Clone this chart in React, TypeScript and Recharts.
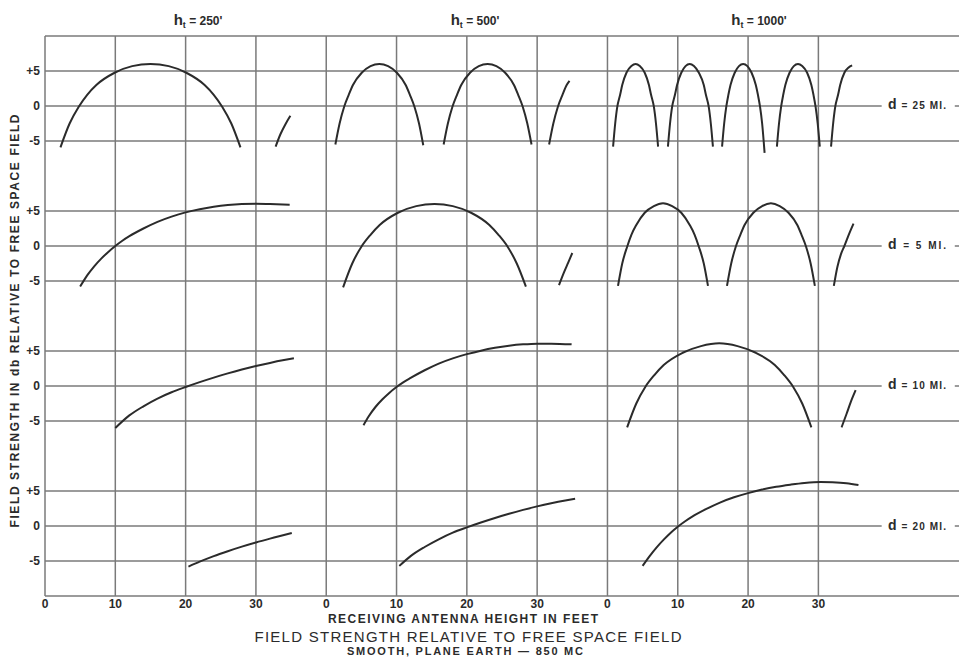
import React, { useEffect, useState } from 'react';
import { LineChart, Line, XAxis, YAxis, ReferenceLine } from 'recharts';

// Receiving antenna heights (ft) in each panel; each panel is 40 ft wide on the page
const PANEL_SPAN = 40;
const TX_HEIGHTS = ["250'", "500'", "1000'"];
const DISTANCES = ['25', '5', '10', '20'];
const X_TICKS = [0, 10, 20, 30, 40, 50, 60, 70, 80, 90, 100, 110];
const Y_TICKS = [-5, 0, 5];

type Pt = [number, number]; // [receiving height ft, db]

// d = 25 mi
const d25_h250: Pt[][] = [
  [[2.2, -5.9], [3.5, -2.5], [4.8, -0.1], [6.0, 1.6], [7.3, 3.0], [9.9, 4.75], [12.4, 5.7], [15.0, 6.0], [17.6, 5.7], [20.1, 4.75], [22.7, 3.0], [24.0, 1.6], [25.2, -0.1], [26.5, -2.5], [27.8, -5.9]],
  [[32.8, -5.8], [33.5, -4.0], [34.2, -2.6], [34.9, -1.4]],
];
const d25_h500: Pt[][] = [
  [[1.3, -5.5], [1.9, -2.5], [2.55, -0.1], [3.2, 1.6], [3.8, 3.0], [5.05, 4.75], [6.3, 5.7], [7.55, 6.0], [8.8, 5.7], [10.05, 4.75], [11.3, 3.0], [11.9, 1.6], [12.55, -0.1], [13.2, -2.5], [13.8, -5.6]],
  [[16.7, -5.5], [17.3, -2.5], [17.95, -0.1], [18.6, 1.6], [19.2, 3.0], [20.45, 4.75], [21.7, 5.7], [22.95, 6.0], [24.2, 5.7], [25.45, 4.75], [26.7, 3.0], [27.3, 1.6], [27.95, -0.1], [28.6, -2.5], [29.2, -5.5]],
  [[31.7, -5.5], [32.3, -2.5], [32.95, -0.1], [33.6, 1.6], [34.2, 3.0], [34.6, 3.6]],
];
const d25_h1000: Pt[][] = [
  [[0.8, -5.8], [1.1, -2.5], [1.4, -0.1], [1.8, 1.6], [2.1, 3.0], [2.7, 4.75], [3.4, 5.7], [4.0, 6.0], [4.6, 5.7], [5.3, 4.75], [5.9, 3.0], [6.2, 1.6], [6.6, -0.1], [6.9, -2.5], [7.2, -5.8]],
  [[8.6, -5.8], [8.9, -2.5], [9.2, -0.1], [9.6, 1.6], [9.9, 3.0], [10.5, 4.75], [11.1, 5.7], [11.7, 6.0], [12.3, 5.7], [13.0, 4.75], [13.7, 3.0], [14.0, 1.6], [14.4, -0.1], [14.7, -2.5], [15.0, -5.8]],
  [[16.3, -5.8], [16.6, -2.5], [16.9, -0.1], [17.2, 1.6], [17.5, 3.0], [18.1, 4.75], [18.7, 5.7], [19.3, 6.0], [19.9, 5.7], [20.5, 4.75], [21.1, 3.0], [21.4, 1.6], [21.7, -0.1], [22.0, -2.5], [22.35, -6.7]],
  [[24.1, -5.8], [24.4, -2.5], [24.7, -0.1], [25.0, 1.6], [25.3, 3.0], [25.9, 4.75], [26.5, 5.7], [27.1, 6.0], [27.7, 5.7], [28.4, 4.75], [29.0, 3.0], [29.3, 1.6], [29.6, -0.1], [29.9, -2.5], [30.2, -5.8]],
  [[31.8, -5.8], [32.1, -2.5], [32.4, -0.1], [32.8, 1.6], [33.1, 3.0], [33.7, 4.75], [34.3, 5.5], [34.8, 5.8]],
];

// d = 5 mi
const d5_h250: Pt[][] = [
  [[5.0, -5.8], [6, -4.2], [7, -2.9], [8, -1.8], [9, -0.85], [10, 0], [11, 0.75], [12, 1.4], [14, 2.5], [16, 3.45], [18, 4.2], [20, 4.8], [22, 5.25], [24, 5.6], [26, 5.85], [28, 6.0], [30, 6.05], [32, 6.0], [34.8, 5.9]],
];
const d5_h500: Pt[][] = [
  [[2.4, -5.9], [3.7, -2.5], [5.0, -0.1], [6.3, 1.6], [7.6, 3.0], [10.2, 4.75], [12.8, 5.7], [15.4, 6.0], [18.0, 5.7], [20.6, 4.75], [23.2, 3.0], [24.5, 1.6], [25.8, -0.1], [27.1, -2.5], [28.4, -5.8]],
  [[33.1, -5.6], [33.8, -3.8], [34.4, -2.4], [35.0, -1.0]],
];
const d5_h1000: Pt[][] = [
  [[1.5, -5.7], [2.1, -2.5], [2.8, -0.1], [3.4, 1.6], [4.1, 3.0], [5.3, 4.75], [6.6, 5.7], [7.9, 6.1], [9.2, 5.7], [10.5, 4.75], [11.7, 3.0], [12.4, 1.6], [13.0, -0.1], [13.7, -2.5], [14.3, -5.7]],
  [[17.0, -5.7], [17.6, -2.5], [18.25, -0.1], [18.9, 1.6], [19.5, 3.0], [20.75, 4.75], [22.0, 5.7], [23.25, 6.1], [24.5, 5.7], [25.75, 4.75], [27.0, 3.0], [27.6, 1.6], [28.25, -0.1], [28.9, -2.5], [29.5, -5.7]],
  [[32.2, -5.7], [32.7, -3.0], [33.2, -1.2], [33.7, 0], [34.4, 1.8], [35.0, 3.2]],
];

// d = 10 mi
const d10_h250: Pt[][] = [
  [[10.0, -6.0], [12, -4.2], [14, -2.9], [16, -1.8], [18, -0.9], [20, -0.15], [22, 0.55], [24, 1.2], [26, 1.8], [28, 2.35], [30, 2.85], [32, 3.3], [34, 3.7], [35.4, 3.95]],
];
const d10_h500: Pt[][] = [
  [[5.3, -5.6], [6, -4.4], [7, -3.0], [8, -1.9], [9, -0.95], [10, -0.15], [11, 0.55], [12, 1.15], [14, 2.25], [16, 3.2], [18, 3.95], [20, 4.55], [22, 5.05], [24, 5.45], [26, 5.75], [28, 5.95], [30, 6.05], [32, 6.05], [34.9, 5.95]],
];
const d10_h1000: Pt[][] = [
  [[2.8, -5.9], [4.1, -2.5], [5.4, -0.1], [6.7, 1.6], [8.0, 3.0], [10.7, 4.75], [13.3, 5.7], [15.9, 6.1], [18.5, 5.7], [21.1, 4.75], [23.8, 3.0], [25.1, 1.6], [26.4, -0.1], [27.7, -2.5], [29.0, -5.9]],
  [[33.3, -5.9], [34.0, -4.0], [34.6, -2.3], [35.3, -0.6]],
];

// d = 20 mi
const d20_h250: Pt[][] = [
  [[20.4, -5.8], [22, -5.1], [24, -4.3], [26, -3.6], [28, -2.95], [30, -2.35], [32, -1.8], [35.1, -1.0]],
];
const d20_h500: Pt[][] = [
  [[10.4, -5.7], [12, -4.3], [14, -3.0], [16, -1.9], [18, -0.95], [20, -0.2], [22, 0.5], [24, 1.15], [26, 1.75], [28, 2.3], [30, 2.8], [32, 3.25], [34, 3.65], [35.4, 3.9]],
];
const d20_h1000: Pt[][] = [
  [[5.0, -5.7], [6, -4.3], [7, -3.05], [8, -1.95], [9, -0.95], [10, -0.1], [11, 0.65], [12, 1.3], [14, 2.4], [16, 3.35], [18, 4.1], [20, 4.7], [22, 5.2], [24, 5.6], [26, 5.9], [28, 6.15], [30.3, 6.3], [32, 6.25], [34, 6.1], [35.7, 5.85]],
];

const ROWS: Pt[][][][] = [
  [d25_h250, d25_h500, d25_h1000],
  [d5_h250, d5_h500, d5_h1000],
  [d10_h250, d10_h500, d10_h1000],
  [d20_h250, d20_h500, d20_h1000],
];

const GRID = '#7a7a7a';
const INK = '#2b2b2b';
const FONT = '"Liberation Sans", Arial, sans-serif';

const ROW_TOP = [36, 176, 316, 456];

// grid, axes and tick labels for one distance row
function GridRow({ idx }: { idx: number }) {
  const last = idx === ROWS.length - 1;
  const edges = [idx === 0 ? 10 : null, last ? -10 : null].filter((v) => v !== null) as number[];
  return (
    <div style={{ position: 'absolute', left: 0, top: ROW_TOP[idx] - 5 }}>
      <LineChart width={959} height={last ? 172 : 150} margin={{ top: 5, right: 0, bottom: 5, left: 0 }}>
        <XAxis
          type="number"
          dataKey="x"
          domain={[0, 130]}
          ticks={X_TICKS}
          interval={0}
          hide={!last}
          height={22}
          axisLine={false}
          tickLine={false}
          tickSize={0}
          tickMargin={3}
          allowDataOverflow
          tickFormatter={(v: number) => String(v % PANEL_SPAN)}
          tick={{ fill: INK, fontSize: 12, fontWeight: 700, fontFamily: FONT }}
        />
        <YAxis
          type="number"
          domain={[-10, 10]}
          ticks={Y_TICKS}
          interval={0}
          width={45}
          axisLine={false}
          tickLine={false}
          tickSize={0}
          tickMargin={5}
          allowDataOverflow
          tickFormatter={(v: number) => (v > 0 ? `+${v}` : String(v))}
          tick={{ fill: INK, fontSize: 12, fontWeight: 700, fontFamily: FONT }}
        />
        {X_TICKS.map((v) => (
          <ReferenceLine key={'v' + v} x={v} stroke={GRID} strokeWidth={1.5} />
        ))}
        <ReferenceLine key="p5" y={5} stroke={GRID} strokeWidth={1.5} />
        <ReferenceLine key="m5" y={-5} stroke={GRID} strokeWidth={1.5} />
        {/* 0 db line, broken for the distance label */}
        <ReferenceLine key="z1" segment={[{ x: 0, y: 0 }, { x: 119, y: 0 }]} stroke={GRID} strokeWidth={1.5} />
        <ReferenceLine key="z2" segment={[{ x: 129.4, y: 0 }, { x: 130, y: 0 }]} stroke={GRID} strokeWidth={1.5} />
        {edges.map((v) => (
          <ReferenceLine key={'e' + v} y={v} stroke={GRID} strokeWidth={1.5} />
        ))}
      </LineChart>
    </div>
  );
}

// the curves of one distance row, drawn over its grid
function DataRow({ idx }: { idx: number }) {
  // lay the three panels of this row side by side on one x axis
  const series = ROWS[idx].flatMap((panel, c) =>
    panel.map((curve) => curve.map(([h, db]) => ({ x: c * PANEL_SPAN + h, y: db })))
  );
  return (
    <div style={{ position: 'absolute', left: 0, top: ROW_TOP[idx] - 5, pointerEvents: 'none' }}>
      <LineChart width={959} height={150} margin={{ top: 5, right: 0, bottom: 5, left: 0 }}>
        <XAxis type="number" dataKey="x" domain={[0, 130]} hide allowDataOverflow />
        <YAxis type="number" domain={[-10, 10]} width={45} tick={false} axisLine={false} tickLine={false} allowDataOverflow />
        {series.map((data, i) => (
          <Line
            key={i}
            data={data}
            dataKey="y"
            type="monotone"
            stroke={INK}
            strokeWidth={2}
            dot={false}
            activeDot={false}
            isAnimationActive={false}
          />
        ))}
      </LineChart>
    </div>
  );
}

const HEADER_X = [198, 475, 759];
const LABEL_Y = [105, 245, 385, 526];

export default function App() {
  // one extra render after mount so every reference line is laid out
  const [, setReady] = useState(false);
  useEffect(() => {
    const t = setTimeout(() => setReady(true), 150);
    return () => clearTimeout(t);
  }, []);

  return (
    <div style={{ position: 'absolute', left: 0, top: 0, width: 959, height: 660, background: '#fff', overflow: 'hidden' }}>
      {ROWS.map((_, i) => (
        <GridRow key={'g' + i} idx={i} />
      ))}
      {ROWS.map((_, i) => (
        <DataRow key={'d' + i} idx={i} />
      ))}
      <svg width={959} height={660} style={{ position: 'absolute', left: 0, top: 0, pointerEvents: 'none' }}>
        <g fill={INK} fontFamily={FONT} fontWeight={700}>
          {TX_HEIGHTS.map((t, i) => (
            <text key={t} x={HEADER_X[i]} y={25} textAnchor="middle" fontSize={12}>
              <tspan fontSize={15}>h</tspan>
              <tspan fontSize={9} dy={3}>t</tspan>
              <tspan dy={-3}>{` = ${t}`}</tspan>
            </text>
          ))}
          {DISTANCES.map((d, i) => (
            <text key={d} x={888} y={LABEL_Y[i] + 4} fontSize={10} textLength={58} lengthAdjust="spacing">
              <tspan fontSize={14}>d</tspan>
              <tspan>{` = ${d} MI.`}</tspan>
            </text>
          ))}
          <text
            transform="translate(19,321) rotate(-90)"
            textAnchor="middle"
            fontSize={12}
            textLength={413}
            lengthAdjust="spacing"
          >
            FIELD STRENGTH IN db RELATIVE TO FREE SPACE FIELD
          </text>
          <text x={463} y={623} textAnchor="middle" fontSize={12} textLength={270} lengthAdjust="spacing">
            RECEIVING ANTENNA HEIGHT IN FEET
          </text>
          <text x={468} y={642} textAnchor="middle" fontSize={15} fontWeight={400} textLength={427} lengthAdjust="spacing">
            FIELD STRENGTH RELATIVE TO FREE SPACE FIELD
          </text>
          <text x={465} y={655} textAnchor="middle" fontSize={11} textLength={236} lengthAdjust="spacing">
            SMOOTH, PLANE EARTH — 850 MC
          </text>
        </g>
      </svg>
    </div>
  );
}
